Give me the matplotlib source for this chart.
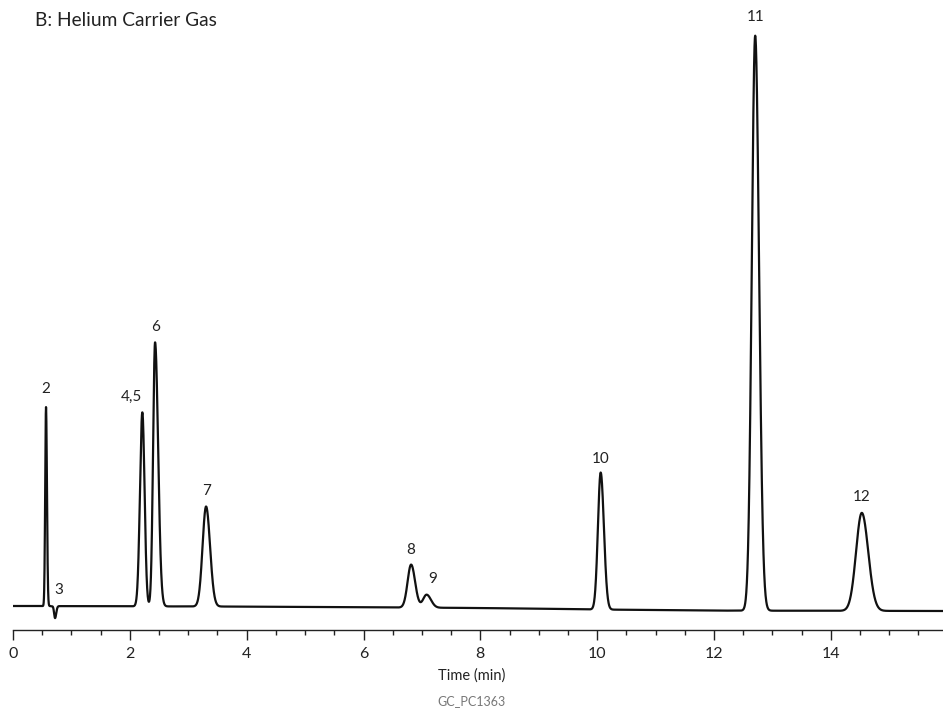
import numpy as np
import matplotlib
matplotlib.use("Agg")
import matplotlib.pyplot as plt
from matplotlib.ticker import MultipleLocator

plt.rcParams['font.family'] = ['Lato', 'DejaVu Sans']

# ---- data ----
peak_labels = ["2", "3", "4,5", "6", "7", "8", "9", "10", "11", "12"]
peak_times = [0.565, 0.72, 2.214, 2.432, 3.305, 6.815, 7.08, 10.06, 12.705, 14.53]
peak_heights = [199, -12, 194, 264, 100, 43, 13, 137, 575, 98]
sigma_left = [0.014, 0.016, 0.040, 0.034, 0.060, 0.060, 0.060, 0.047, 0.058, 0.098]
sigma_right = [0.016, 0.020, 0.038, 0.052, 0.068, 0.068, 0.075, 0.055, 0.066, 0.110]

baseline_times = [0.0, 4.0, 8.0, 10.0, 12.0, 16.0]
baseline_values = [0.0, -0.6, -2.0, -3.5, -4.6, -5.0]

x_max = 15.92

# label offsets in pixels (dx, dy above peak top); style only
label_offsets = {"2": (0, 18), "3": (4, 16), "4,5": (-11, 15), "6": (0, 15),
                 "7": (0, 15), "8": (0, 15), "9": (6, 16), "10": (0, 14),
                 "11": (0, 19), "12": (0, 16)}

# ---- build trace ----
t = np.linspace(0, x_max, 8000)
signal = np.interp(t, baseline_times, baseline_values)
for tc, h, sl, sr in zip(peak_times, peak_heights, sigma_left, sigma_right):
    s = np.where(t < tc, sl, sr)
    signal = signal + h * np.exp(-0.5 * ((t - tc) / s) ** 2)

W, H = 943, 712
fig = plt.figure(figsize=(W / 100, H / 100), dpi=100)
ax = fig.add_axes([13 / W, (H - 630) / H, 930 / W, 630 / H])
ax.plot(t, signal, color='#111111', lw=1.6, solid_joinstyle='round')
ax.set_xlim(0, x_max)
ax.set_ylim(-24, 606)

for sp in ['top', 'right', 'left']:
    ax.spines[sp].set_visible(False)
ax.spines['bottom'].set_color('#222222')
ax.spines['bottom'].set_linewidth(1.0)
ax.set_yticks([])
ax.xaxis.set_major_locator(MultipleLocator(2))
ax.xaxis.set_minor_locator(MultipleLocator(0.5))
ax.tick_params(axis='x', which='major', length=7, width=1.0, color='#222222',
               labelsize=11.5, labelcolor='#222222', pad=5)
ax.tick_params(axis='x', which='minor', length=3.5, width=1.0, color='#222222')

px_per_min = 930 / x_max
for lab, tc, h in zip(peak_labels, peak_times, peak_heights):
    dx, dy = label_offsets[lab]
    base = np.interp(tc, baseline_times, baseline_values)
    top = base + max(h, 0)
    ax.text(tc + dx / px_per_min, top + dy, lab, ha='center', va='center',
            fontsize=11, color='#222222')

fig.text(35 / W, 1 - 20 / H, "B: Helium Carrier Gas", ha='left', va='center',
         fontsize=13.8, color='#222222')
fig.text(472 / W, 1 - 676 / H, "Time (min)", ha='center', va='center',
         fontsize=10.5, color='#222222')
fig.text(472 / W, 1 - 701 / H, "GC_PC1363", ha='center', va='center',
         fontsize=9, color='#777777')

fig.savefig("out.png", dpi=100)
